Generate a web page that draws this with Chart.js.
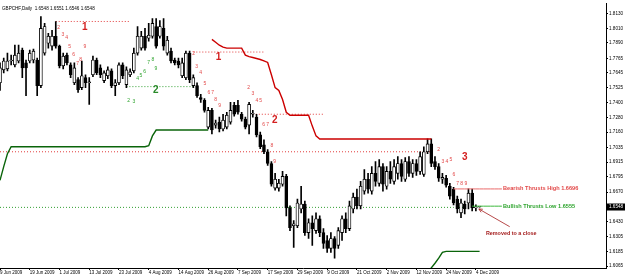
<!DOCTYPE html>
<html>
<head>
<meta charset="utf-8">
<script src="https://cdn.jsdelivr.net/npm/chart.js@4.4.1/dist/chart.umd.min.js"></script>
<style>
  html, body { margin: 0; padding: 0; background: #fff; }
  #wrap { position: relative; width: 625px; height: 275px; }
</style>
</head>
<body>
<div id="wrap"><canvas id="chartGbpChf"></canvas></div>
<script>
// GBPCHF daily, one bar per weekday from 9 Jun 2009 (bar 0) to 7 Dec 2009 (bar 129)
const symbol = 'GBPCHF';
const slotCount = 164; // bars + empty space on the right (chart shift)

// one date label every 8 bars
const xTickLabels = ['9 Jun 2009', '19 Jun 2009', '1 Jul 2009', '13 Jul 2009', '23 Jul 2009',
  '4 Aug 2009', '14 Aug 2009', '26 Aug 2009', '7 Sep 2009', '17 Sep 2009', '29 Sep 2009',
  '9 Oct 2009', '21 Oct 2009', '2 Nov 2009', '12 Nov 2009', '24 Nov 2009', '4 Dec 2009'];

const yTickValues = [1.8130, 1.8010, 1.7890, 1.7765, 1.7645, 1.7525, 1.7400, 1.7280, 1.7160,
  1.7035, 1.6915, 1.6795, 1.6670, 1.6430, 1.6305, 1.6185, 1.6065];

const open = [
  1.7565,1.7670,1.7678,1.7743,1.7711,1.7743,1.7832,1.7727,1.7743,1.7751,
  1.7751,1.7541,1.7807,1.7888,1.7864,1.7945,1.7864,1.7703,1.7791,1.7711,
  1.7565,1.7590,1.7525,1.7606,1.7565,1.7630,1.7751,1.7686,1.7582,1.7622,
  1.7662,1.7541,1.7565,1.7711,1.7549,1.7630,1.7662,1.7807,1.7848,1.7945,
  1.7929,1.7945,1.8025,1.7945,1.8009,1.7807,1.7824,1.7751,1.7743,1.7622,
  1.7606,1.7807,1.7541,1.7541,1.7444,1.7420,1.7202,1.7339,1.7218,1.7243,
  1.7186,1.7202,1.7243,1.7380,1.7380,1.7307,1.7267,1.7218,1.7307,1.7283,
  1.7138,1.7057,1.7000,1.6904,1.6702,1.6702,1.6734,1.6799,1.6541,1.6395,
  1.6395,1.6532,1.6573,1.6339,1.6419,1.6355,1.6452,1.6339,1.6274,1.6210,
  1.6290,1.6234,1.6339,1.6452,1.6371,1.6532,1.6629,1.6557,1.6678,1.6775,
  1.6678,1.6823,1.6742,1.6879,1.6718,1.6839,1.6758,1.6823,1.6904,1.6775,
  1.6920,1.6823,1.6904,1.6839,1.6815,1.7000,1.7065,1.6920,1.6879,1.6775,
  1.6783,1.6718,1.6694,1.6613,1.6500,1.6573,1.6581,1.6662,1.6541,1.6548
];
const high = [
  1.7727,1.7767,1.7807,1.7791,1.7872,1.7872,1.7848,1.7751,1.7832,1.7840,
  1.7767,1.8106,1.8050,1.7969,1.7993,1.8066,1.7872,1.7807,1.7807,1.7727,
  1.7727,1.7606,1.7743,1.7630,1.7606,1.7783,1.7767,1.7711,1.7662,1.7695,
  1.7678,1.7590,1.7727,1.7727,1.7695,1.7678,1.7848,1.8025,1.7985,1.8009,
  1.8050,1.8090,1.8090,1.8074,1.8090,1.7945,1.7848,1.7767,1.7767,1.7767,
  1.7824,1.7824,1.7630,1.7565,1.7469,1.7436,1.7364,1.7356,1.7259,1.7283,
  1.7307,1.7323,1.7404,1.7404,1.7420,1.7323,1.7283,1.7404,1.7339,1.7307,
  1.7162,1.7097,1.7017,1.6920,1.6823,1.6775,1.6839,1.6815,1.6557,1.6436,
  1.6613,1.6718,1.6597,1.6452,1.6476,1.6500,1.6476,1.6371,1.6315,1.6339,
  1.6306,1.6379,1.6476,1.6500,1.6597,1.6662,1.6694,1.6758,1.6855,1.6823,
  1.6879,1.6920,1.6936,1.6904,1.6879,1.6920,1.6936,1.6960,1.6936,1.6952,
  1.6960,1.6936,1.6936,1.7000,1.7041,1.7105,1.7105,1.6960,1.6904,1.6823,
  1.6807,1.6742,1.6710,1.6637,1.6613,1.6597,1.6696,1.6694,1.6565,1.6551
];
const low = [
  1.7501,1.7646,1.7662,1.7711,1.7695,1.7727,1.7606,1.7460,1.7727,1.7727,
  1.7460,1.7525,1.7791,1.7848,1.7832,1.7848,1.7686,1.7678,1.7711,1.7606,
  1.7549,1.7485,1.7509,1.7525,1.7388,1.7614,1.7630,1.7606,1.7565,1.7598,
  1.7525,1.7460,1.7549,1.7598,1.7525,1.7614,1.7646,1.7791,1.7832,1.7832,
  1.7904,1.7929,1.7848,1.7929,1.7832,1.7791,1.7727,1.7711,1.7686,1.7606,
  1.7590,1.7565,1.7525,1.7444,1.7404,1.7323,1.7186,1.7146,1.7194,1.7162,
  1.7170,1.7186,1.7226,1.7291,1.7307,1.7251,1.7186,1.7146,1.7283,1.7122,
  1.7025,1.6984,1.6888,1.6718,1.6686,1.6678,1.6718,1.6476,1.6355,1.6218,
  1.6379,1.6500,1.6315,1.6290,1.6234,1.6331,1.6306,1.6210,1.6177,1.6177,
  1.6129,1.6210,1.6274,1.6339,1.6355,1.6500,1.6532,1.6532,1.6653,1.6662,
  1.6653,1.6718,1.6718,1.6678,1.6694,1.6742,1.6734,1.6775,1.6758,1.6758,
  1.6799,1.6791,1.6807,1.6815,1.6799,1.6984,1.6879,1.6855,1.6758,1.6742,
  1.6710,1.6613,1.6565,1.6500,1.6460,1.6492,1.6532,1.6516,1.6516,1.6546
];
const close = [
  1.7686,1.7743,1.7743,1.7751,1.7791,1.7807,1.7686,1.7686,1.7807,1.7824,
  1.7541,1.8009,1.8025,1.7945,1.7945,1.7864,1.7703,1.7783,1.7727,1.7630,
  1.7686,1.7509,1.7622,1.7565,1.7573,1.7751,1.7646,1.7630,1.7646,1.7670,
  1.7541,1.7565,1.7711,1.7622,1.7670,1.7654,1.7807,1.7945,1.7945,1.7848,
  1.7953,1.8050,1.7864,1.8025,1.7864,1.7912,1.7743,1.7727,1.7711,1.7727,
  1.7807,1.7590,1.7606,1.7460,1.7428,1.7339,1.7339,1.7178,1.7235,1.7186,
  1.7259,1.7299,1.7339,1.7307,1.7323,1.7267,1.7202,1.7388,1.7315,1.7138,
  1.7041,1.7000,1.6904,1.6734,1.6775,1.6742,1.6799,1.6541,1.6379,1.6411,
  1.6581,1.6573,1.6339,1.6419,1.6371,1.6452,1.6339,1.6250,1.6210,1.6290,
  1.6210,1.6355,1.6452,1.6371,1.6557,1.6629,1.6557,1.6718,1.6775,1.6694,
  1.6823,1.6758,1.6879,1.6734,1.6839,1.6775,1.6879,1.6904,1.6799,1.6920,
  1.6823,1.6904,1.6839,1.6960,1.7000,1.7065,1.6904,1.6879,1.6783,1.6791,
  1.6726,1.6637,1.6581,1.6532,1.6581,1.6532,1.6662,1.6541,1.6549,1.6548
];

// red trailing line, bars 57..116
const bearLineStart = 57;
const bearLine = [
  1.7920,1.7896,1.7872,1.7856,1.7848,1.7848,1.7848,1.7848,1.7848,1.7791,
  1.7779,1.7771,1.7763,1.7755,1.7743,1.7731,1.7630,1.7525,1.7501,1.7428,
  1.7323,1.7299,1.7299,1.7299,1.7299,1.7299,1.7299,1.7210,1.7130,1.7105,
  1.7105,1.7105,1.7105,1.7105,1.7105,1.7105,1.7105,1.7105,1.7105,1.7105,
  1.7105,1.7105,1.7105,1.7105,1.7105,1.7105,1.7105,1.7105,1.7105,1.7105,
  1.7105,1.7105,1.7105,1.7105,1.7105,1.7105,1.7105,1.7105,1.7105,1.7105
];
// green trailing line, bars 0..56 and 115..129
const bullLineStartA = 0;
const bullLineA = [
  1.6766,1.6879,1.6984,1.7041,1.7041,1.7041,1.7041,1.7041,1.7041,1.7041,
  1.7041,1.7041,1.7041,1.7041,1.7041,1.7041,1.7041,1.7041,1.7041,1.7041,
  1.7041,1.7041,1.7041,1.7041,1.7041,1.7041,1.7041,1.7041,1.7041,1.7041,
  1.7041,1.7041,1.7041,1.7041,1.7041,1.7041,1.7041,1.7041,1.7041,1.7041,
  1.7049,1.7130,1.7178,1.7178,1.7178,1.7178,1.7178,1.7178,1.7178,1.7178,
  1.7178,1.7178,1.7178,1.7178,1.7178,1.7178,1.7178
];
const bullLineStartB = 115;
const bullLineB = [1.6010,1.6050,1.6088,1.6129,1.6177,1.6185,1.6185,1.6185,1.6185,1.6185,
  1.6185,1.6185,1.6185,1.6185,1.6185];

// dotted levels
const levelPrice = [1.8066, 1.7816, 1.7307, 1.7000, 1.7533, 1.6545];
const levelFrom  = [15, 52, 68, 0, 34, 0];
const levelTo    = [35, 71, 87, 116, 52, 127];
const levelSide  = ['bear', 'bear', 'bear', 'bear', 'bull', 'bull'];

// current thrust levels
const thrustHigh = 1.6696, thrustHighFrom = 122;
const thrustLow = 1.6555, thrustLowFrom = 127;
const thrustTo = 135;

// bar counts written next to the candles: [bar, price, text]
const bearCounts = [
  [15.8,1.8017,'2'],[16.9,1.7961,'3'],[17.9,1.7937,'4'],[18.7,1.7864,'5'],[19.8,1.7791,'6'],[20.9,1.7719,'7'],[21.7,1.7751,'8'],[22.8,1.7864,'9'],
  [52.1,1.7807,'2'],[52.9,1.7695,'3'],[54,1.7646,'4'],[55.1,1.7557,'5'],[56.2,1.7485,'6'],[57.2,1.7485,'7'],[58,1.7428,'8'],[59.1,1.7380,'9'],
  [66.9,1.7525,'2'],[68,1.7477,'3'],[69.1,1.7420,'4'],[70.1,1.7420,'5'],[70.9,1.7226,'6'],[72,1.7226,'7'],[73.1,1.7049,'8'],[73.9,1.6920,'9'],
  [118,1.7017,'2'],[119.1,1.6920,'3'],[120.2,1.6920,'4'],[121.3,1.6936,'5'],[122.1,1.6815,'6'],[123.1,1.6742,'7'],[124.2,1.6742,'8'],[125.3,1.6742,'9']
];
const bullCounts = [
  [34.6,1.7420,'2'],[36,1.7412,'3'],[37,1.7598,'4'],[37.9,1.7622,'5'],[38.9,1.7654,'6'],[40,1.7727,'7'],[41.1,1.7751,'8'],[41.9,1.7678,'9']
];
const waveLabels = [
  [22.8,1.8017,'1','bear'],[58.8,1.7775,'1','bear'],[73.9,1.7259,'2','bear'],[125,1.6952,'3','bear'],[41.9,1.7501,'2','bull']
];

const COLORS = {
  bearLine: '#cc0000',
  bullLine: '#0a640a',
  bearDot: '#e23a3a',
  bullDot: '#2e9e2e',
  bearText: '#e24848',
  bullText: '#2ea42e',
  note: '#a41c1c'
};

// ---- build datasets ----
const lastBar = open.length - 1;
const labels = [];
for (let i = 0; i < slotCount; i++) labels.push(i);

const wicks = [], bodies = [], bodyFill = [];
for (let i = 0; i < open.length; i++) {
  wicks.push([low[i], high[i]]);
  bodies.push([open[i], close[i]]);
  bodyFill.push(close[i] >= open[i] ? '#ffffff' : '#000000');
}

function segment(start, values) {
  const out = new Array(slotCount).fill(null);
  values.forEach((v, k) => { out[start + k] = v; });
  return out;
}
function flat(from, to, price) {
  const out = new Array(slotCount).fill(null);
  for (let i = from; i <= to; i++) out[i] = price;
  return out;
}

const levelSets = levelPrice.map((p, k) => ({
  type: 'line',
  data: flat(levelFrom[k], levelTo[k], p),
  borderColor: levelSide[k] === 'bear' ? COLORS.bearDot : COLORS.bullDot,
  borderWidth: 1,
  borderDash: [1, 2],
  pointRadius: 0,
  spanGaps: false,
  order: 5
}));

const overlay = {
  id: 'overlay',
  afterDatasetsDraw(chart) {
    const { ctx, chartArea, scales: { x, y } } = chart;
    const font = 'px "Liberation Sans", Arial, sans-serif';
    ctx.save();
    ctx.beginPath();
    ctx.rect(chartArea.left, chartArea.top, chartArea.right - chartArea.left, chartArea.bottom - chartArea.top);
    ctx.clip();
    ctx.textAlign = 'center';
    ctx.textBaseline = 'middle';

    ctx.font = '5' + font;
    ctx.fillStyle = COLORS.bearText;
    bearCounts.forEach(c => ctx.fillText(c[2], x.getPixelForValue(c[0]), y.getPixelForValue(c[1])));
    ctx.fillStyle = COLORS.bullText;
    bullCounts.forEach(c => ctx.fillText(c[2], x.getPixelForValue(c[0]), y.getPixelForValue(c[1])));

    ctx.font = 'bold 10' + font;
    waveLabels.forEach(w => {
      ctx.fillStyle = w[3] === 'bear' ? '#d42020' : '#2a8a2a';
      ctx.fillText(w[2], x.getPixelForValue(w[0]), y.getPixelForValue(w[1]));
    });

    // thrust captions
    ctx.textAlign = 'left';
    ctx.font = 'bold 5.6' + font;
    ctx.fillStyle = COLORS.bearText;
    ctx.fillText('Bearish Thrusts High ' + thrustHigh.toFixed(4), x.getPixelForValue(thrustTo + 0.3), y.getPixelForValue(thrustHigh));
    ctx.fillStyle = COLORS.bullText;
    ctx.fillText('Bullish Thrusts Low ' + thrustLow.toFixed(4), x.getPixelForValue(thrustTo + 0.3), y.getPixelForValue(thrustLow));

    // note + arrow
    ctx.font = 'bold 5.4' + font;
    ctx.fillStyle = COLORS.note;
    ctx.fillText('Removed to a close', x.getPixelForValue(130.7), y.getPixelForValue(1.6331));
    const ax0 = x.getPixelForValue(137.1), ay0 = y.getPixelForValue(1.6387);
    const ax1 = x.getPixelForValue(128.8), ay1 = y.getPixelForValue(1.6532);
    ctx.strokeStyle = COLORS.note;
    ctx.lineWidth = 0.8;
    ctx.beginPath(); ctx.moveTo(ax0, ay0); ctx.lineTo(ax1, ay1); ctx.stroke();
    const ang = Math.atan2(ay1 - ay0, ax1 - ax0);
    ctx.beginPath();
    ctx.moveTo(ax1, ay1);
    ctx.lineTo(ax1 - 4 * Math.cos(ang - 0.45), ay1 - 4 * Math.sin(ang - 0.45));
    ctx.moveTo(ax1, ay1);
    ctx.lineTo(ax1 - 4 * Math.cos(ang + 0.45), ay1 - 4 * Math.sin(ang + 0.45));
    ctx.stroke();

    // header
    ctx.fillStyle = '#000';
    ctx.font = '4.6' + font;
    ctx.fillText(symbol + ',Daily  ' + [open[lastBar], high[lastBar], low[lastBar], close[lastBar]].map(v => v.toFixed(4)).join(' '),
      chartArea.left + 2, chartArea.top + 5);
    ctx.restore();

    // current price box on the price axis
    ctx.save();
    const py = y.getPixelForValue(close[lastBar]);
    ctx.fillStyle = '#000';
    ctx.fillRect(y.left, py - 3.5, y.width, 7);
    ctx.fillStyle = '#fff';
    ctx.font = '4.6' + font;
    ctx.textBaseline = 'middle';
    ctx.textAlign = 'left';
    ctx.fillText(close[lastBar].toFixed(4), y.left + 3, py);
    ctx.restore();
  }
};

new Chart(document.getElementById('chartGbpChf'), {
  type: 'bar',
  data: {
    labels: labels,
    datasets: [
      {
        type: 'line', data: segment(bearLineStart, bearLine),
        borderColor: COLORS.bearLine, borderWidth: 1.4, pointRadius: 0, order: 0
      },
      {
        type: 'line', data: segment(bullLineStartA, bullLineA),
        borderColor: COLORS.bullLine, borderWidth: 1.4, pointRadius: 0, order: 0
      },
      {
        type: 'line', data: segment(bullLineStartB, bullLineB),
        borderColor: COLORS.bullLine, borderWidth: 1.4, pointRadius: 0, order: 0
      },
      {
        type: 'line', data: flat(thrustHighFrom, thrustTo, thrustHigh),
        borderColor: '#ea6a6a', borderWidth: 1, pointRadius: 0, order: 0
      },
      {
        type: 'line', data: flat(thrustLowFrom, thrustTo, thrustLow),
        borderColor: '#3cb83c', borderWidth: 1, pointRadius: 0, order: 0
      },
      {
        data: bodies, backgroundColor: bodyFill, borderColor: '#000', borderWidth: 0.9,
        borderSkipped: false, barThickness: 3, minBarLength: 1, grouped: false, order: 1
      },
      {
        data: wicks, backgroundColor: '#000', borderWidth: 0,
        barThickness: 1, grouped: false, order: 2
      },
      ...levelSets
    ]
  },
  options: {
    responsive: true,
    maintainAspectRatio: false,
    animation: false,
    events: [],
    layout: { padding: 0 },
    plugins: { legend: { display: false }, tooltip: { enabled: false } },
    scales: {
      x: {
        type: 'category',
        offset: false,
        grid: { drawOnChartArea: false, offset: false, tickLength: 2, color: '#000' },
        border: { display: true, color: '#000' },
        ticks: {
          autoSkip: false, maxRotation: 0, minRotation: 0, align: 'start', padding: 0,
          color: '#000', font: { size: 4.5, family: '"Liberation Sans", Arial, sans-serif' },
          callback: (v, i) => (i % 8 === 0 && i / 8 < xTickLabels.length) ? xTickLabels[i / 8] : null
        },
        afterFit: (scale) => { scale.height = 7; }
      },
      y: {
        type: 'linear',
        position: 'right',
        min: 1.6049,
        max: 1.8211,
        grid: { drawOnChartArea: false, tickLength: 2, color: '#000' },
        border: { display: true, color: '#000' },
        ticks: {
          autoSkip: false, padding: 1, color: '#000',
          font: { size: 4.6, family: '"Liberation Sans", Arial, sans-serif' },
          callback: (v) => v.toFixed(4)
        },
        afterBuildTicks: (scale) => { scale.ticks = yTickValues.map(v => ({ value: v })); },
        afterFit: (scale) => { scale.width = 19; }
      }
    }
  },
  plugins: [overlay]
});
</script>
</body>
</html>
